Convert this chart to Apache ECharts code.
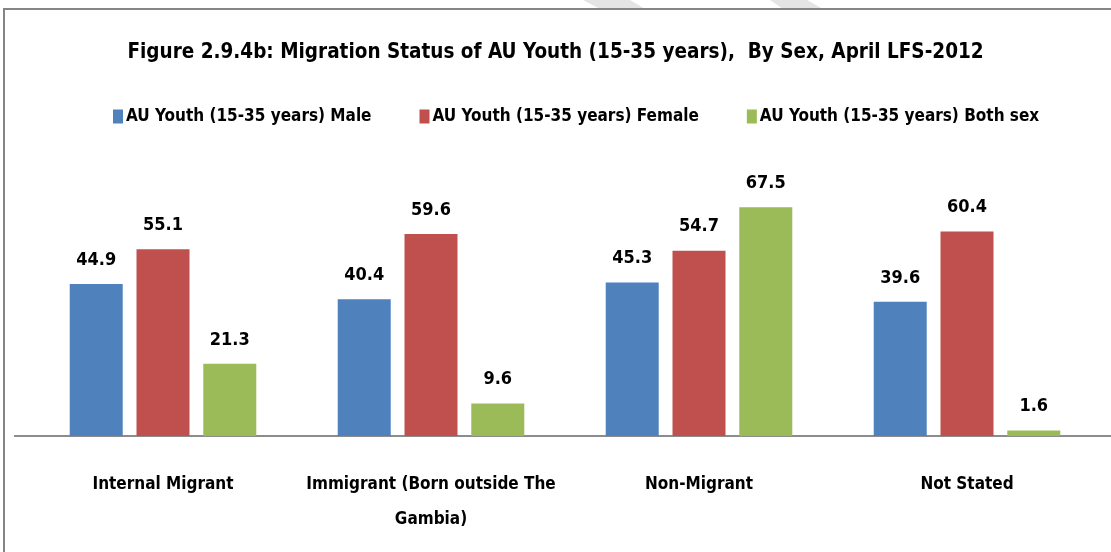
<!DOCTYPE html>
<html>
<head>
<meta charset="utf-8">
<script src="https://cdn.jsdelivr.net/npm/echarts@6/dist/echarts.min.js"></script>
<style>
html, body { margin: 0; padding: 0; background: #fff; }
#chart { width: 1111px; height: 552px; }
</style>
</head>
<body>
<div id="chart"></div>
<script>
var categories = ['Internal Migrant', 'Immigrant (Born outside The Gambia)', 'Non-Migrant', 'Not Stated'];
var seriesNames = ['AU Youth (15-35 years) Male', 'AU Youth (15-35 years) Female', 'AU Youth (15-35 years) Both sex'];
var maleData = [44.9, 40.4, 45.3, 39.6];
var femaleData = [55.1, 59.6, 54.7, 60.4];
var bothData = [21.3, 9.6, 67.5, 1.6];

var colors = ['#4F81BD', '#C0504D', '#9BBB59'];
var fontName = '"DejaVu Sans Condensed", "Liberation Sans Narrow", sans-serif';

var dom = document.getElementById('chart');
var myChart = echarts.init(dom);
var option = null;

function makeSeries(name, data, color) {
    return {
        name: name,
        type: 'bar',
        data: data,
        barWidth: 53,
        barGap: '26%',
        itemStyle: { color: color },
        label: {
            show: true,
            position: 'top',
            distance: 15,
            color: '#000',
            fontFamily: fontName,
            fontWeight: 'bold',
            fontSize: 18,
            formatter: function (p) { return p.value.toFixed(1); }
        },
        animation: false
    };
}

option = {
    backgroundColor: '#fff',
    color: colors,
    title: {
        text: 'Figure 2.9.4b: Migration Status of AU Youth (15-35 years),  By Sex, April LFS-2012',
        left: 'center',
        top: 37,
        textStyle: {
            fontFamily: fontName,
            fontWeight: 'bold',
            fontSize: 20.5,
            color: '#000'
        }
    },
    legend: {
        data: seriesNames,
        top: 103,
        left: 108,
        itemWidth: 10,
        itemHeight: 14,
        itemGap: 48,
        icon: 'rect',
        textStyle: {
            fontFamily: fontName,
            fontWeight: 'bold',
            fontSize: 17,
            color: '#000',
            padding: [0, 0, 0, -2]
        }
    },
    graphic: [
        {
            type: 'polygon',
            shape: { points: [[583, 0], [630, 0], [645, 9], [600, 9]] },
            style: { fill: '#e4e4e4' },
            z: -1
        },
        {
            type: 'polygon',
            shape: { points: [[770, 0], [807, 0], [823, 9], [783, 9]] },
            style: { fill: '#e4e4e4' },
            z: -1
        },
        {
            type: 'rect',
            shape: { x: 4, y: 9, width: 1200, height: 700 },
            style: { fill: '#fff', stroke: '#858585', lineWidth: 2 },
            z: -1
        },
        {
            type: 'line',
            shape: { x1: 14, y1: 436, x2: 1111, y2: 436 },
            style: { stroke: '#8c8c8c', lineWidth: 2 },
            z: 0
        }
    ],
    grid: {
        left: 29,
        right: 10,
        top: 165,
        bottom: 116,
        containLabel: false
    },
    xAxis: {
        type: 'category',
        data: categories,
        axisTick: { show: false },
        axisLine: { lineStyle: { color: '#8c8c8c', width: 2 } },
        axisLabel: {
            interval: 0,
            margin: 31,
            lineHeight: 35,
            color: '#000',
            fontFamily: fontName,
            fontWeight: 'bold',
            fontSize: 17,
            formatter: function (v) { return v.replace('outside The ', 'outside The\n'); }
        }
    },
    yAxis: {
        type: 'value',
        min: 0,
        max: 80,
        show: false,
        splitLine: { show: false }
    },
    series: [
        makeSeries(seriesNames[0], maleData, colors[0]),
        makeSeries(seriesNames[1], femaleData, colors[1]),
        makeSeries(seriesNames[2], bothData, colors[2])
    ]
};

if (option && typeof option === "object") {
    myChart.setOption(option, true);
}
</script>
</body>
</html>
